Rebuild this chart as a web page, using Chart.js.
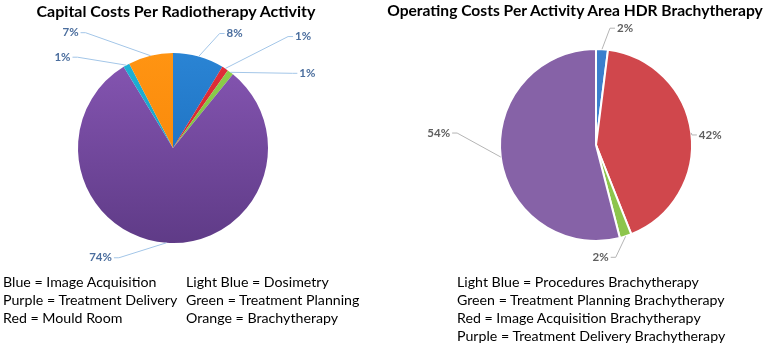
<!DOCTYPE html>
<html>
<head>
<meta charset="utf-8">
<script src="https://cdn.jsdelivr.net/npm/chart.js@4"></script>
<style>
  body { margin: 0; background: #fff; font-family: Lato, "Open Sans", sans-serif; }
  #wrap { position: relative; width: 767px; height: 347px; overflow: hidden; }
  canvas { position: absolute; top: 0; }
  #capital { left: 0; }
  #operating { left: 384px; }
  .title { position: absolute; top: 1px; font-weight: bold; font-size: 16px; color: #000; white-space: nowrap; transform: translateX(-50%); }
  .legend { position: absolute; top: 273px; font-size: 14.2px; line-height: 18px; color: #000; white-space: nowrap; }
</style>
</head>
<body>
<div id="wrap">
  <canvas id="capital" width="384" height="347"></canvas>
  <canvas id="operating" width="383" height="347"></canvas>
  <div class="title" style="left:176px">Capital Costs Per Radiotherapy Activity</div>
  <div class="title" style="left:575px;font-size:15.6px">Operating Costs Per Activity Area HDR Brachytherapy</div>
  <div class="legend" style="left:3px">Blue = Image Acquisition<br>Purple = Treatment Delivery<br>Red = Mould Room</div>
  <div class="legend" style="left:186px">Light Blue = Dosimetry<br>Green = Treatment Planning<br>Orange = Brachytherapy</div>
  <div class="legend" style="left:457px">Light Blue = Procedures Brachytherapy<br>Green = Treatment Planning Brachytherapy<br>Red = Image Acquisition Brachytherapy<br>Purple = Treatment Delivery Brachytherapy</div>
</div>
<script>
// capital costs, clockwise from 12 o'clock
const capitalLabels = ['Image Acquisition', 'Mould Room', 'Treatment Planning', 'Treatment Delivery', 'Dosimetry', 'Brachytherapy'];
const capitalValues = [8, 1, 1, 74, 1, 7];

// operating costs, clockwise from 12 o'clock
const operatingLabels = ['Procedures Brachytherapy', 'Image Acquisition Brachytherapy', 'Treatment Planning Brachytherapy', 'Treatment Delivery Brachytherapy'];
const operatingValues = [2, 42, 2, 54];

// [top, bottom] shades for the left pie
const capitalShades = [
    ['#2a84d4', '#1766b6'],
    ['#e2303a', '#c81f27'],
    ['#8fd04c', '#6fb23a'],
    ['#8656b3', '#5f3b87'],
    ['#1fb2d6', '#1295b8'],
    ['#ff9412', '#f58205']
];
const operatingColors = ['#3b7fcd', '#d0474c', '#8dc54c', '#8662a7'];

// label offsets (px) from the mid point of each slice's rim
const capitalLabelOffsets = [[36, -23], [78, -32], [77, 1], [-66, 15], [-64, -8], [-80, -23]];
const operatingLabelOffsets = [[23, -21], [19, 2], [-25, 21], [-62, -24]];

function shade(c) {
    const pair = capitalShades[c.dataIndex];
    const area = c.chart.chartArea;
    if (!area) return pair[0];
    const g = c.chart.ctx.createLinearGradient(0, area.top, 0, area.bottom);
    g.addColorStop(0, pair[0]);
    g.addColorStop(1, pair[1]);
    return g;
}

const leaderLabels = {
    id: 'leaderLabels',
    afterDatasetsDraw(chart, args, opts) {
        const ctx = chart.ctx;
        const values = chart.data.datasets[0].data;
        ctx.save();
        ctx.font = opts.font;
        ctx.textAlign = 'center';
        ctx.textBaseline = 'middle';
        chart.getDatasetMeta(0).data.forEach((arc, i) => {
            const mid = (arc.startAngle + arc.endAngle) / 2;
            const ax = arc.x + Math.cos(mid) * arc.outerRadius;
            const ay = arc.y + Math.sin(mid) * arc.outerRadius;
            const [dx, dy] = opts.offsets[i];
            const lx = ax + dx, ly = ay + dy;
            const text = values[i] + '%';
            const w = ctx.measureText(text).width;
            const side = dx >= 0 ? -1 : 1;
            const edge = lx + side * (w / 2 + 2);
            ctx.strokeStyle = opts.lineColor;
            ctx.lineWidth = 1;
            ctx.beginPath();
            ctx.moveTo(ax, ay);
            ctx.lineTo(edge + side * 5, ly);
            ctx.lineTo(edge, ly);
            ctx.stroke();
            ctx.fillStyle = opts.color;
            ctx.fillText(text, lx, ly);
        });
        ctx.restore();
    }
};

new Chart(document.querySelector('#capital'), {
    type: 'pie',
    data: {
        labels: capitalLabels,
        datasets: [{
            data: capitalValues,
            backgroundColor: shade,
            borderWidth: 0
        }]
    },
    options: {
        responsive: false,
        animation: false,
        layout: { padding: { left: 78, right: 116, top: 53, bottom: 104 } },
        plugins: {
            legend: { display: false },
            tooltip: { enabled: false },
            leaderLabels: { offsets: capitalLabelOffsets, font: 'bold 11.5px Lato', color: '#4b6e9e', lineColor: '#a3c6e8' }
        }
    },
    plugins: [leaderLabels]
});

new Chart(document.querySelector('#operating'), {
    type: 'pie',
    data: {
        labels: operatingLabels,
        datasets: [{
            data: operatingValues,
            backgroundColor: operatingColors,
            borderColor: '#fff',
            borderWidth: 2
        }]
    },
    options: {
        responsive: false,
        animation: false,
        layout: { padding: { left: 115, right: 74, top: 48, bottom: 105 } },
        plugins: {
            legend: { display: false },
            tooltip: { enabled: false },
            leaderLabels: { offsets: operatingLabelOffsets, font: 'bold 11.5px Lato', color: '#5f5f5f', lineColor: '#b5b5b5' }
        }
    },
    plugins: [leaderLabels]
});
</script>
</body>
</html>
